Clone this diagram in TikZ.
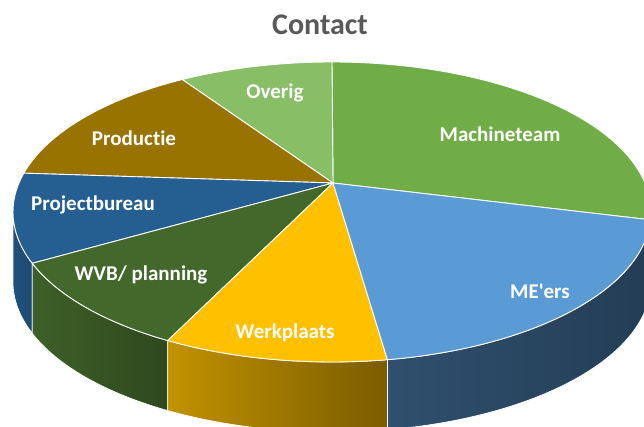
\documentclass[tikz,border=0pt]{standalone}
\usepackage{fontspec}
\setmainfont{Carlito}[Ligatures={TeXOff,CommonOff}]
\usetikzlibrary{calc}
\definecolor{machineteam}{HTML}{70AD47}
\definecolor{overig}{HTML}{88BE66}
\definecolor{productie}{HTML}{997300}
\definecolor{projectbureau}{HTML}{255E91}
\definecolor{wvb}{HTML}{43682B}
\definecolor{werkplaats}{HTML}{FFC000}
\definecolor{meers}{HTML}{5B9BD5}
\definecolor{meersside}{HTML}{243D55}
\definecolor{titlegray}{HTML}{595959}
\tikzset{
    slice/.style={draw=white, line width=0.9pt, line join=round},
    rim/.style={draw=white, line width=0.7pt},
    pielabel/.style={text=white, font=\bfseries\fontsize{21}{25}\selectfont},
    charttitle/.style={text=titlegray, font=\bfseries\fontsize{30}{36}\selectfont},
}
% top of a slice: start angle, end angle, colour
\newcommand{\topslice}[3]{%
    \path[slice, fill=#3] (apex) -- ($(c)+(#1:319pt and 150pt)$)
        arc[start angle=#1, end angle=#2, x radius=319pt, y radius=150pt] -- cycle;}
% side of a slice: start angle, end angle, left colour, right colour
\newcommand{\sideslice}[4]{%
    \path[rim, left color=#3, right color=#4] ($(c)+(#1:319pt and 150pt)$)
        arc[start angle=#1, end angle=#2, x radius=319pt, y radius=150pt]
        -- ++(0,-70) arc[start angle=#2, end angle=#1, x radius=319pt, y radius=150pt] -- cycle;}
\begin{document}
\begin{tikzpicture}[x=1pt, y=1pt]
    \useasboundingbox (0,0) rectangle (644,427);
    \clip (0,0) rectangle (644,427);
    \coordinate (c) at (332,215);
    \coordinate (apex) at (333,244);
    % sides
    \sideslice{180}{200}{projectbureau!85!black}{projectbureau!80!black}
    \sideslice{200}{239}{wvb!92!black}{wvb!70!black}
    \sideslice{239}{280}{werkplaats!76!black}{werkplaats!48!black}
    \sideslice{280}{357}{meersside!80!meers}{meersside}
    \sideslice{357}{360}{machineteam!60!black}{machineteam!60!black}
    % tops
    \topslice{-3}{90}{machineteam}
    \topslice{90}{118}{overig}
    \topslice{118}{165}{productie}
    \topslice{165}{200}{projectbureau}
    \topslice{200}{239}{wvb}
    \topslice{239}{280}{werkplaats}
    \topslice{280}{357}{meers}
    % labels
    \node[charttitle] (title) at (320,402) {Contact};
    \node[pielabel] (overig) at (275,334) {Overig};
    \node[pielabel] (machine) at (500,293) {Machineteam};
    \node[pielabel] (productie) at (134,289) {Productie};
    \node[pielabel] (project) at (93,222) {Projectbureau};
    \node[pielabel] (wvb) at (141,152) {WVB/ planning};
    \node[pielabel] (werk) at (285,94) {Werkplaats};
    \node[pielabel] (meers) at (540,136) {ME'ers};
\end{tikzpicture}
\end{document}
